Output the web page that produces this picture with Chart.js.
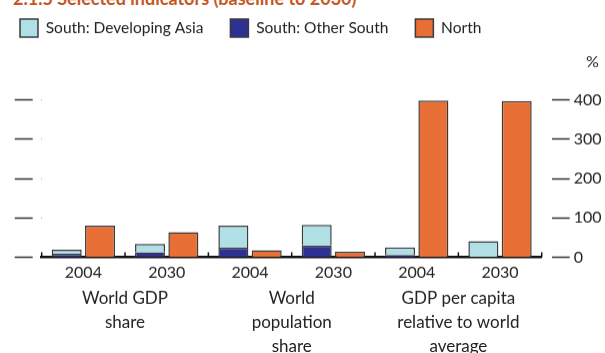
<!DOCTYPE html>
<html>
<head>
<meta charset="utf-8">
<script src="https://cdn.jsdelivr.net/npm/chart.js@4.4.1/dist/chart.umd.min.js"></script>
<style>
  html, body { margin: 0; padding: 0; background: #fff; overflow: hidden; }
  #wrap { position: relative; width: 605px; height: 353px; overflow: hidden; }
  #title { position: absolute; left: 13px; top: -11px; font: bold 18px Lato, sans-serif; line-height: 18px;
           color: #c4581f; white-space: nowrap; }
  #box { position: absolute; left: 0; top: 0; width: 605px; height: 362.5px; }
</style>
</head>
<body>
<div id="wrap">
  <div id="title">2.1.5 Selected indicators (baseline to 2030)</div>
  <div id="box"><canvas id="indicators"></canvas></div>
</div>
<script>
// data
var categories = ['2004', '2030', '2004', '2030', '2004', '2030'];
var groups = [['World GDP', 'share'], ['World', 'population', 'share'], ['GDP per capita', 'relative to world', 'average']];
var otherSouth = [9, 13, 24, 30, 6, 0];
var devAsia = [10, 21, 56, 52, 19, 41];
var north = [80, 64, 18, 14, 398, 397];
var yTicks = [0, 100, 200, 300, 400];
var unitTick = 495;   // where the "%" sits
var yMax = 534;

Chart.defaults.font.family = 'Lato';
Chart.defaults.font.size = 16;
Chart.defaults.color = '#222';

var legendRank = [1, 0, 2];

//small upward ticks between the categories
var catTicks = {
  id: 'catTicks',
  afterDatasetsDraw: function(chart) {
    var x = chart.scales.x, ctx = chart.ctx;
    var w = x.getPixelForValue(1) - x.getPixelForValue(0);
    var b = chart.chartArea.bottom;
    ctx.save();
    ctx.strokeStyle = '#111';
    ctx.lineWidth = 1.5;
    for (var i = 0; i <= categories.length; i++) {
      var px = x.getPixelForValue(i) - w / 2;
      ctx.beginPath();
      ctx.moveTo(px, b);
      ctx.lineTo(px, b - 5);
      ctx.stroke();
    }
    ctx.restore();
  }
};

var data = {
  labels: categories,
  datasets: [{
    label: 'South: Other South',
    data: otherSouth,
    stack: 'south',
    backgroundColor: '#2e3192',
    borderColor: '#3a3a3a',
    borderWidth: 1.5
  }, {
    label: 'South: Developing Asia',
    data: devAsia,
    stack: 'south',
    backgroundColor: '#b0e0e6',
    borderColor: '#3a3a3a',
    borderWidth: 1.5
  }, {
    label: 'North',
    data: north,
    stack: 'north',
    backgroundColor: '#e86f35',
    borderColor: '#3a3a3a',
    borderWidth: 1.5
  }]
};

var config = {
  type: 'bar',
  data: data,
  plugins: [catTicks],
  options: {
    responsive: true,
    maintainAspectRatio: false,
    animation: false,
    layout: { padding: { left: -7, top: -8, right: 0, bottom: 0 } },
    plugins: {
      tooltip: { enabled: false },
      legend: {
        position: 'top',
        align: 'start',
        labels: {
          boxWidth: 18,
          boxHeight: 18,
          padding: 27,
          color: '#222',
          font: { size: 15.5 },
          sort: function(a, b) { return legendRank[a.datasetIndex] - legendRank[b.datasetIndex]; }
        }
      }
    },
    scales: {
      x: {
        grid: { display: false, drawTicks: false },
        border: { display: true, color: '#111', width: 2.5 },
        ticks: { padding: 6, font: { size: 16 } },
        afterFit: function(s) { s.height = 26; }
      },
      x2: {
        type: 'category',
        labels: groups,
        position: 'bottom',
        offset: true,
        grid: { display: false, drawTicks: false },
        border: { display: false },
        ticks: { padding: 3.5, font: { size: 17, lineHeight: 24 / 17 } },
        afterFit: function(s) { s.height = 80; }
      },
      y: {
        position: 'right',
        stacked: true,
        min: 0,
        max: yMax,
        afterBuildTicks: function(s) {
          s.ticks = yTicks.concat([unitTick]).map(function(v) { return { value: v }; });
        },
        afterFit: function(s) { s.width = 63.3; },
        border: { display: false },
        grid: {
          drawOnChartArea: false,
          tickLength: 28,
          tickWidth: 1.5,
          tickBorderDash: [18, 10],
          tickBorderDashOffset: 18,
          tickColor: function(c) { return c.tick && c.tick.value > 400 ? 'rgba(0,0,0,0)' : '#333'; }
        },
        ticks: {
          padding: 4,
          callback: function(v) { return v === unitTick ? '   %' : v; }
        }
      },
      yL: {
        position: 'left',
        min: 0,
        max: yMax,
        afterBuildTicks: function(s) {
          s.ticks = yTicks.map(function(v) { return { value: v }; });
        },
        afterFit: function(s) { s.width = 48.7; },
        border: { display: false },
        grid: {
          drawOnChartArea: false,
          tickLength: 27,
          tickWidth: 1.5,
          tickBorderDash: [18, 9],
          tickColor: '#333'
        },
        ticks: { display: false }
      }
    }
  }
};

var myChart = new Chart(document.getElementById('indicators'), config);
</script>
</body>
</html>
